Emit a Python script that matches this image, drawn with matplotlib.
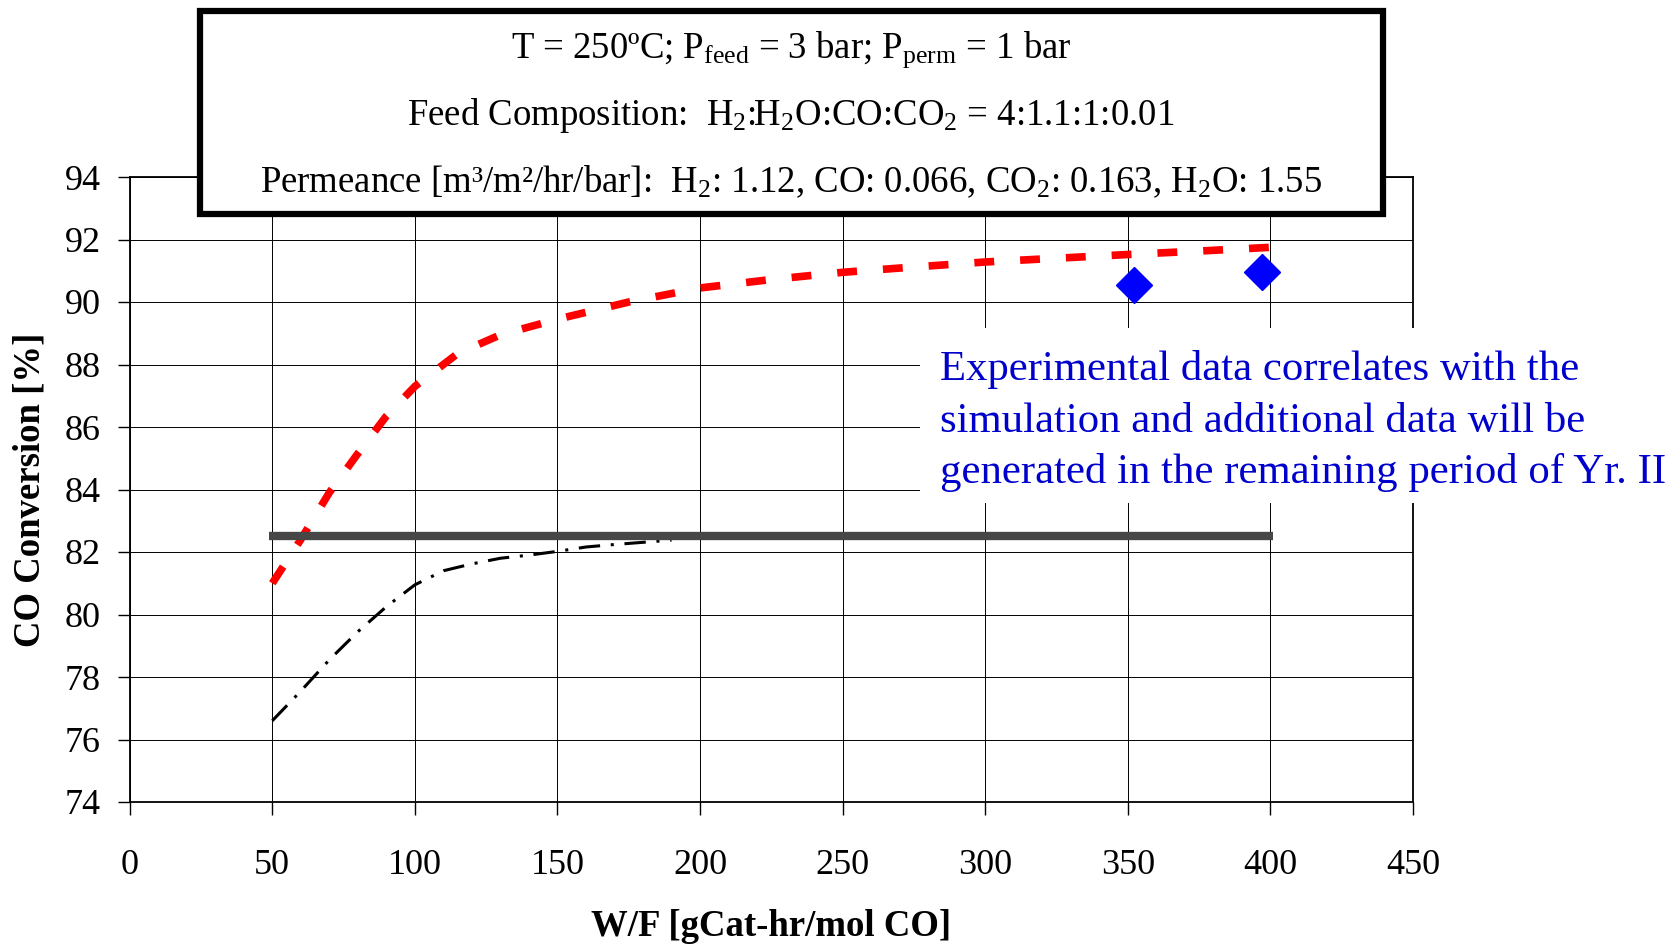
import numpy as np
import matplotlib
matplotlib.use("Agg")
import matplotlib.pyplot as plt
from matplotlib.patches import Rectangle

plt.rcParams['font.family'] = ['Liberation Serif', 'DejaVu Serif']
plt.rcParams['mathtext.fontset'] = 'custom'
plt.rcParams['mathtext.rm'] = 'Liberation Serif'
plt.rcParams['mathtext.it'] = 'Liberation Serif:italic'
plt.rcParams['mathtext.bf'] = 'Liberation Serif:bold'

# simulation with membrane (red dashed)
sim_x = [50, 60, 70, 80, 90, 100, 115, 130, 150, 175, 200, 225, 250, 275, 300, 325, 350, 375, 400]
sim_y = [81.0, 82.4, 83.9, 85.15, 86.35, 87.3, 88.35, 88.95, 89.45, 90.0, 90.45, 90.72, 90.95,
         91.12, 91.28, 91.4, 91.52, 91.63, 91.75]

# conventional reactor (black dash-dot)
conv_x = [50, 60, 70, 80, 90, 100, 110, 120, 130, 140, 150, 160, 170, 180, 190]
conv_y = [76.6, 77.55, 78.55, 79.45, 80.25, 80.95, 81.4, 81.62, 81.8, 81.9, 82.02, 82.16, 82.24,
          82.31, 82.38]

# equilibrium conversion (grey line)
eq_x = [49, 401]
eq_y = [82.5, 82.5]

# experimental points
exp_x = [352, 397]
exp_y = [90.55, 90.97]

xticks = np.arange(0, 451, 50)
yticks = np.arange(74, 95, 2)

W, H = 1681, 944
fig = plt.figure(figsize=(W / 100, H / 100), dpi=100)
ax = fig.add_axes([129.7 / W, 1 - 802 / H, (1413 - 129.7) / W, (802 - 177) / H])

ax.plot(sim_x, sim_y, color='#ff0000', lw=5.5, linestyle=(0, (2.6, 3.4)), zorder=3)
ax.plot(conv_x, conv_y, color='black', lw=2.2, linestyle=(0, (7, 3.5, 1, 3.5)), zorder=3)
ax.plot(eq_x, eq_y, color='#474747', lw=6, solid_capstyle='butt', zorder=4)
ax.plot(exp_x, exp_y, linestyle='none', marker='D', ms=18, color='#0000ff',
        markeredgecolor='#0000ff', zorder=5)

ax.set_xlim(0, 450)
ax.set_ylim(74, 94)
ax.set_xticks(xticks)
ax.set_yticks(yticks)
ax.grid(True, color='black', lw=0.7)
ax.set_axisbelow(True)
for s in ax.spines.values():
    s.set_linewidth(1.3)
ax.tick_params(direction='out', length=9, width=1, labelsize=26)
ax.tick_params(axis='x', pad=25)
ax.tick_params(axis='y', pad=12)

ax.set_xlabel('W/F [gCat-hr/mol CO]', fontsize=26.5, fontweight='bold')
ax.set_ylabel('CO Conversion [%]', fontsize=26.5, fontweight='bold')
ax.xaxis.set_label_coords(0.5, -0.172)
ax.yaxis.set_label_coords(-0.064, 0.5)

# conditions box
fig.patches.append(Rectangle((200 / W, 1 - 214 / H), (1383 - 200) / W, (214 - 11) / H,
                             transform=fig.transFigure, facecolor='white', edgecolor='black',
                             lw=4.5, zorder=10))
cx = 791 / W
fig.text(cx, 1 - 58 / H, r'T = 250ºC; P$_{\mathrm{feed}}$ = 3 bar; P$_{\mathrm{perm}}$ = 1 bar',
         ha='center', va='baseline', fontsize=26.5, zorder=11)
fig.text(cx, 1 - 125 / H,
         r'Feed Composition:  H$_2$:H$_2$O:CO:CO$_2$ = 4:1.1:1:0.01',
         ha='center', va='baseline', fontsize=26.5, zorder=11)
fig.text(cx, 1 - 192 / H,
         r'Permeance [m³/m²/hr/bar]:  H$_2$: 1.12, CO: 0.066, CO$_2$: 0.163, H$_2$O: 1.55',
         ha='center', va='baseline', fontsize=26.5, zorder=11)

# comment box
fig.patches.append(Rectangle((920 / W, 1 - 503 / H), (W - 920) / W, (503 - 328) / H,
                             transform=fig.transFigure, facecolor='white', edgecolor='none',
                             zorder=10))
note = ['Experimental data correlates with the',
        'simulation and additional data will be',
        'generated in the remaining period of Yr. II']
for i, line in enumerate(note):
    fig.text(940 / W, 1 - (380 + 51.5 * i) / H, line, color='#0000cc', fontsize=30.8,
             ha='left', va='baseline', zorder=11)

fig.savefig('out.png', dpi=100)
